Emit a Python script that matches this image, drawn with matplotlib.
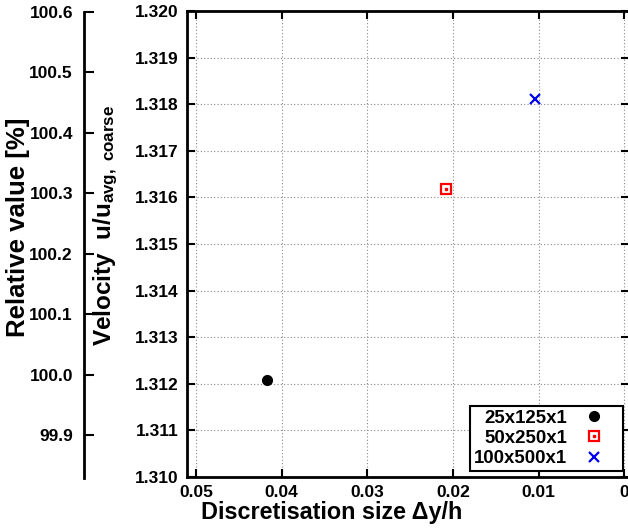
import matplotlib
matplotlib.use('Agg')
import matplotlib.pyplot as plt
from matplotlib.legend_handler import HandlerTuple

# grid refinement study
meshes = ['25x125x1', '50x250x1', '100x500x1']
dy_h = [0.04167, 0.02083, 0.01042]
velocity = [1.31208, 1.31619, 1.31811]

x_ticks = [0.05, 0.04, 0.03, 0.02, 0.01, 0.0]
x_ticklabels = ['0.05', '0.04', '0.03', '0.02', '0.01', '0']
y_ticks = [1.310, 1.311, 1.312, 1.313, 1.314, 1.315, 1.316, 1.317, 1.318, 1.319, 1.320]
rel_ticks = [99.9, 100.0, 100.1, 100.2, 100.3, 100.4, 100.5, 100.6]

plt.rcParams['font.family'] = ['Liberation Sans', 'DejaVu Sans']
plt.rcParams['font.weight'] = 'bold'
plt.rcParams['mathtext.fontset'] = 'custom'
plt.rcParams['mathtext.rm'] = 'Liberation Sans:bold'
plt.rcParams['mathtext.bf'] = 'Liberation Sans:bold'
plt.rcParams['mathtext.it'] = 'Liberation Sans:bold'

W, H = 628, 530
fig = plt.figure(figsize=(W / 100, H / 100), dpi=100)

# main axes (right side runs slightly past the picture edge)
ax = fig.add_axes([187 / W, 1 - 477 / H, 442.4 / W, 466 / H])
ax.set_xlim(0.05105, -0.0006)
ax.set_ylim(1.310, 1.320)

circ, = ax.plot(dy_h[0], velocity[0], 'o', color='black', markersize=7, linestyle='none')
sq, = ax.plot(dy_h[1], velocity[1], 's', color='red', markerfacecolor='none',
              markersize=7.5, markeredgewidth=1.6, linestyle='none')
dot, = ax.plot(dy_h[1], velocity[1], 's', color='red', markersize=1.8, linestyle='none')
cross, = ax.plot(dy_h[2], velocity[2], 'x', color='#0000ee', markersize=7.5,
                 markeredgewidth=1.6, linestyle='none')

ax.set_xticks(x_ticks)
ax.set_xticklabels(x_ticklabels)
ax.set_yticks(y_ticks)
ax.set_yticklabels([f'{v:.3f}' for v in y_ticks])
ax.tick_params(direction='in', length=6, width=1.5, labelsize=12.5, pad=6,
               top=True, right=True)
ax.grid(True, linestyle=(0, (1, 2)), color='#888888', linewidth=0.8)
for s in ax.spines.values():
    s.set_linewidth(2)

ax.set_ylabel(r'Velocity  u/u$_{\rm avg,\ coarse}$', fontsize=17.5, fontweight='bold')
ax.yaxis.set_label_coords(-0.152, 0.54)

fig.text(332 / W, 1 - 512 / H, 'Discretisation size \u0394y/h', fontsize=16.8,
         fontweight='bold', ha='center', va='center')

leg = ax.legend([circ, (sq, dot), cross], meshes, markerfirst=False,
                loc='lower right', bbox_to_anchor=(0.9855, 0.0129), borderaxespad=0,
                fontsize=13.4, fancybox=False, framealpha=1, edgecolor='black',
                handlelength=2.7, handletextpad=0.1, labelspacing=0.18,
                borderpad=0.2, handler_map={tuple: HandlerTuple(ndivide=1)})
leg.get_frame().set_linewidth(1.5)

# secondary axis: value relative to the coarse mesh
ax2 = fig.add_axes([84 / W, 1 - 477.7 / H, 0.001, 465.7 / H])
ax2.set_ylim(99.83, 100.6)
ax2.set_yticks(rel_ticks)
ax2.set_yticklabels([f'{v:.1f}' for v in rel_ticks])
ax2.set_xticks([])
ax2.patch.set_visible(False)
for side in ['top', 'right', 'bottom']:
    ax2.spines[side].set_visible(False)
ax2.spines['left'].set_linewidth(2)
ax2.tick_params(axis='y', direction='in', length=7, width=1.5, labelsize=12.5, pad=8)

fig.text(18 / W, 1 - 227 / H, 'Relative value [%]', fontsize=18.5, fontweight='bold',
         rotation=90, ha='center', va='center')

fig.savefig('out.png', dpi=100)
